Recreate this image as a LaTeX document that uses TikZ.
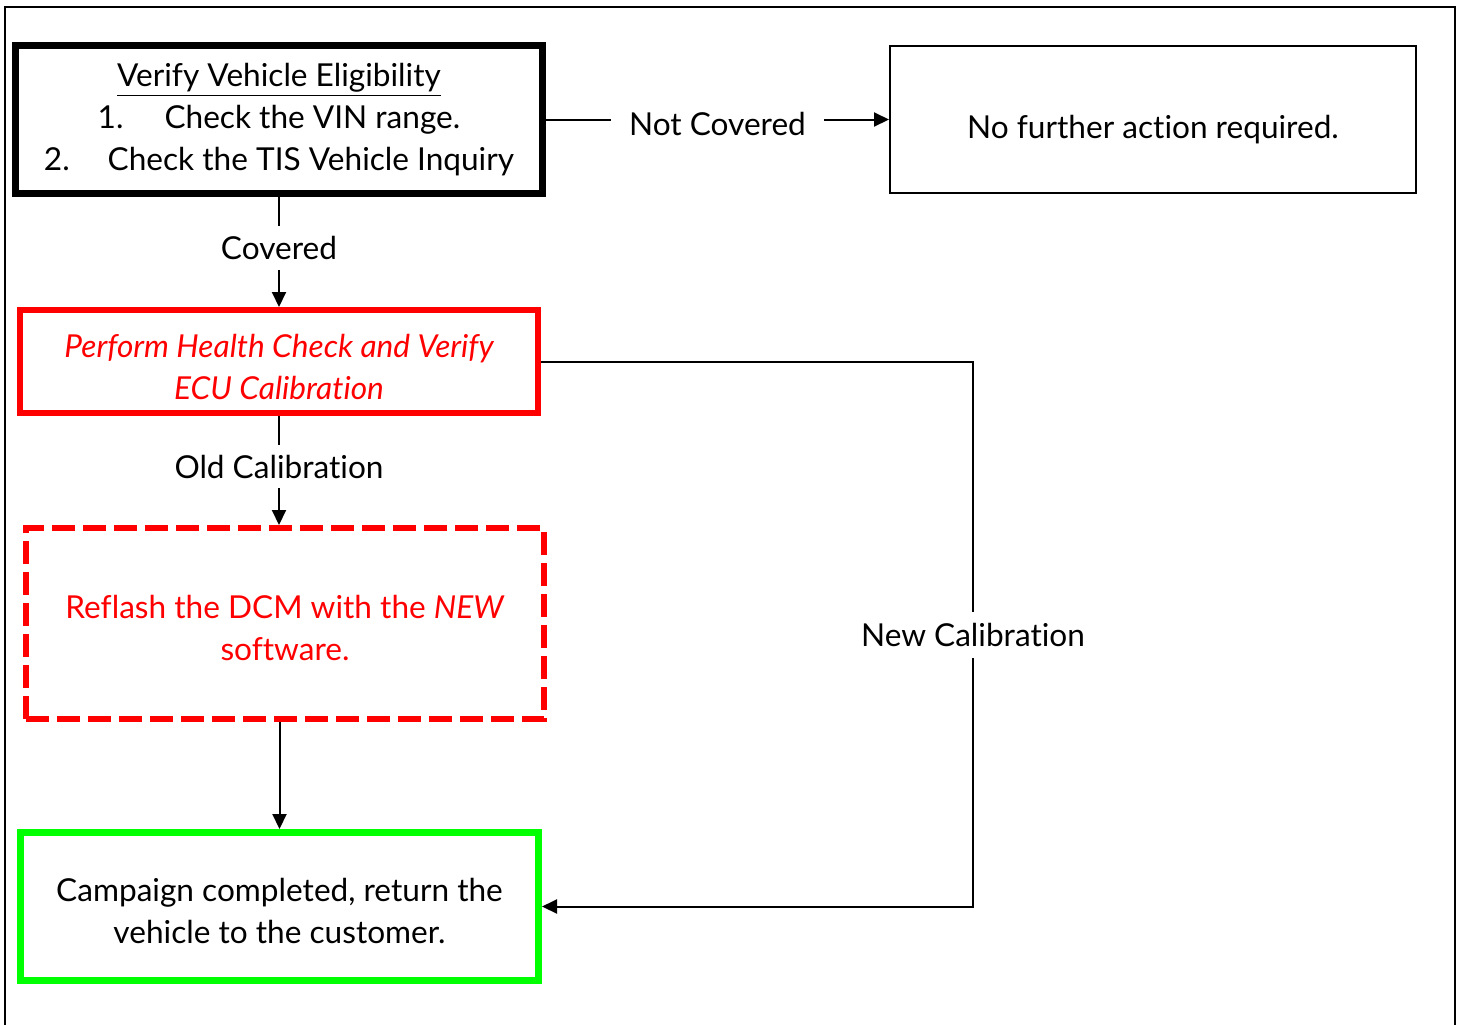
\documentclass[tikz,border=0pt]{standalone}
\usepackage{fontspec}
\setmainfont{Lato}[Ligatures=NoCommon]
\usetikzlibrary{arrows.meta,calc}

\tikzset{
	box/.style={draw, rectangle, align=center, inner sep=0pt, font=\fontsize{15.8}{21}\selectfont},
	lbl/.style={fill=white, inner xsep=9pt, inner ysep=5pt, font=\fontsize{15.8}{21}\selectfont},
}

\begin{document}
\begin{tikzpicture}[x=0.5pt, y=-0.5pt, >={Triangle[length=7.5pt,width=7pt]}, line width=1pt]
	\useasboundingbox (0,0) rectangle (1462,1024);
	% Frame
	\draw [line width=1.2pt] (5,1030) -- (5,7) -- (1455,7) -- (1455,1030);

	% Nodes {verify, nofurther, perform, reflash, campaign}
	\node [box, line width=3.5pt, minimum width=263.5pt, minimum height=74pt] (verify) at (279,119.5)
		{\underline{Verify Vehicle Eligibility}\\ 1.\hspace{1.3em}Check the VIN range.\\ 2.\hspace{1.2em}Check the TIS Vehicle Inquiry};
	\node [box, line width=1pt, minimum width=263pt, minimum height=73.5pt] (nofurther) at (1153,119.5)
		{\rule{0pt}{22pt}No further action required.};
	\node [box, draw=red, text=red, line width=3pt, minimum width=259pt, minimum height=51.5pt] (perform) at (279,361.5)
		{\rule{0pt}{17pt}\itshape Perform Health Check and Verify\\ \itshape ECU Calibration};
	\node [box, draw=red, text=red, line width=3pt, dash pattern=on 11.5pt off 4pt, minimum width=259pt, minimum height=95.5pt] (reflash) at (285,623.5)
		{\rule{0pt}{16pt}Reflash the DCM with the \textit{NEW}\\ software.};
	\node [box, draw=green, line width=3.5pt, minimum width=259pt, minimum height=74pt] (campaign) at (279.5,906.5)
		{\rule{0pt}{16pt}Campaign completed, return the\\ vehicle to the customer.};
	\node [lbl] (newcal) at (973,635) {New Calibration};

	% Paths
	\path [->] (verify) edge node [lbl, yshift=-2pt] {Not Covered} (nofurther);
	\path [->] (verify) edge node [lbl, yshift=2pt] {Covered} (perform);
	\path [->] (perform.south) edge node [lbl, yshift=2pt] {Old Calibration} (perform.south |- reflash.north);
	\path [->] (campaign.north |- reflash.south) edge (campaign.north);
	\draw (perform.east) -| (newcal.north);
	\draw [->] (newcal.south) |- (campaign.east);
\end{tikzpicture}
\end{document}
